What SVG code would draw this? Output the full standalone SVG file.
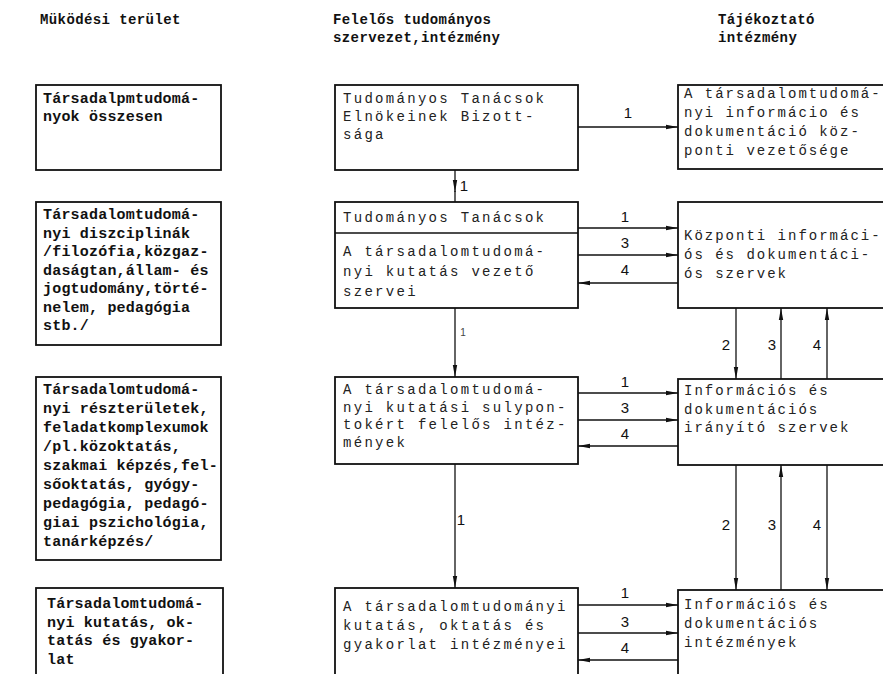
<svg xmlns="http://www.w3.org/2000/svg" width="883" height="674" viewBox="0 0 883 674">
<defs>
<style>
.box{fill:#fff;stroke:#111;stroke-width:1.8}
.cn{stroke:#111;stroke-width:1.3;fill:none}
.hd{font-family:"Liberation Mono",monospace;font-weight:bold;font-size:14px;letter-spacing:0.4px;fill:#111}
.lt{font-family:"Liberation Mono",monospace;font-weight:bold;font-size:15px;letter-spacing:0.2px;fill:#111}
.mt{font-family:"Liberation Mono",monospace;font-size:14px;letter-spacing:2.3px;fill:#222}
.rt{font-family:"Liberation Mono",monospace;font-size:14px;letter-spacing:2px;fill:#222}
.lb{font-family:"Liberation Sans",sans-serif;font-size:15px;text-anchor:middle;fill:#111}
.sm{font-family:"Liberation Sans",sans-serif;font-size:10px;text-anchor:middle;fill:#444}
</style>
<marker id="ah" markerUnits="userSpaceOnUse" markerWidth="12" markerHeight="6" refX="12" refY="3" orient="auto">
<path d="M0,0.8 L12,3 L0,5.2 z" fill="#111"/>
</marker>
</defs>
<rect width="883" height="674" fill="#fff"/>

<g id="headers">
<text class="hd" x="40" y="24">Müködési terület</text>
<text class="hd" x="333" y="24">Felelős tudományos</text>
<text class="hd" x="333" y="42">szervezet,intézmény</text>
<text class="hd" x="718" y="24">Tájékoztató</text>
<text class="hd" x="718" y="42">intézmény</text>
</g>

<g id="left1"><rect class="box" x="36" y="85" width="185" height="85"/>
<text class="lt" x="43" y="103">Társadalpmtudomá-</text>
<text class="lt" x="43" y="121">nyok összesen</text></g>

<g id="left2"><rect class="box" x="36" y="202" width="185" height="143"/>
<text class="lt" x="43" y="219">Társadalomtudomá-</text>
<text class="lt" x="43" y="237.5">nyi diszciplinák</text>
<text class="lt" x="43" y="256">/filozófia,közgaz-</text>
<text class="lt" x="43" y="274.5">daságtan,állam- és</text>
<text class="lt" x="43" y="293">jogtudomány,törté-</text>
<text class="lt" x="43" y="311.5">nelem, pedagógia</text>
<text class="lt" x="43" y="330">stb./</text></g>

<g id="left3"><rect class="box" x="36" y="377" width="185" height="183"/>
<text class="lt" x="43" y="394">Társadalomtudomá-</text>
<text class="lt" x="43" y="413">nyi részterületek,</text>
<text class="lt" x="43" y="432">feladatkomplexumok</text>
<text class="lt" x="43" y="451">/pl.közoktatás,</text>
<text class="lt" x="43" y="470">szakmai képzés,fel-</text>
<text class="lt" x="43" y="489">sőoktatás, gyógy-</text>
<text class="lt" x="43" y="508">pedagógia, pedagó-</text>
<text class="lt" x="43" y="527">giai pszichológia,</text>
<text class="lt" x="43" y="546">tanárképzés/</text></g>

<g id="left4"><rect class="box" x="36" y="588" width="187" height="120"/>
<text class="lt" x="47" y="608">Társadalomtudomá-</text>
<text class="lt" x="47" y="626.5">nyi kutatás, ok-</text>
<text class="lt" x="47" y="645">tatás és gyakor-</text>
<text class="lt" x="47" y="663.5">lat</text></g>

<g id="mid1"><rect class="box" x="335" y="85" width="243" height="85"/>
<text class="mt" x="343" y="103">Tudományos Tanácsok</text>
<text class="mt" x="343" y="121">Elnökeinek Bizott-</text>
<text class="mt" x="343" y="139">sága</text></g>

<g id="mid2"><rect class="box" x="335" y="202" width="243" height="106"/>
<line class="cn" x1="335" y1="233" x2="578" y2="233"/>
<text class="mt" x="343" y="222">Tudományos Tanácsok</text>
<text class="mt" x="343" y="256">A társadalomtudomá-</text>
<text class="mt" x="343" y="276">nyi kutatás vezető</text>
<text class="mt" x="343" y="296">szervei</text></g>

<g id="mid3"><rect class="box" x="335" y="377" width="243" height="87"/>
<text class="mt" x="343" y="394">A társadalomtudomá-</text>
<text class="mt" x="343" y="411.5">nyi kutatási sulypon-</text>
<text class="mt" x="343" y="429">tokért felelős intéz-</text>
<text class="mt" x="343" y="446.5">mények</text></g>

<g id="mid4"><rect class="box" x="335" y="588" width="243" height="120"/>
<text class="mt" x="343" y="611">A társadalomtudományi</text>
<text class="mt" x="343" y="630">kutatás, oktatás és</text>
<text class="mt" x="343" y="649">gyakorlat intézményei</text></g>

<g id="right1"><rect class="box" x="678" y="85" width="220" height="84"/>
<text class="rt" x="684" y="98">A társadalomtudomá-</text>
<text class="rt" x="684" y="117">nyi informácio és</text>
<text class="rt" x="684" y="136">dokumentáció köz-</text>
<text class="rt" x="684" y="155">ponti vezetősége</text></g>

<g id="right2"><rect class="box" x="678" y="202" width="220" height="106"/>
<text class="rt" x="684" y="240">Központi informáci-</text>
<text class="rt" x="684" y="259">ós és dokumentáci-</text>
<text class="rt" x="684" y="278">ós szervek</text></g>

<g id="right3"><rect class="box" x="678" y="379" width="220" height="86"/>
<text class="rt" x="684" y="395">Információs és</text>
<text class="rt" x="684" y="413.5">dokumentációs</text>
<text class="rt" x="684" y="432">irányító szervek</text></g>

<g id="right4"><rect class="box" x="678" y="590" width="220" height="120"/>
<text class="rt" x="684" y="609">Információs és</text>
<text class="rt" x="684" y="628">dokumentációs</text>
<text class="rt" x="684" y="647">intézmények</text></g>

<g id="connectors">
<path class="cn" d="M578,127 H678" marker-end="url(#ah)"/>
<path class="cn" d="M455,170 V192" marker-end="url(#ah)"/>
<path class="cn" d="M455,191 V202"/>
<path class="cn" d="M578,228 H678" marker-end="url(#ah)"/>
<path class="cn" d="M578,255 H678" marker-end="url(#ah)"/>
<path class="cn" d="M678,283 H578" marker-end="url(#ah)"/>
<path class="cn" d="M455,308 V377" marker-end="url(#ah)"/>
<path class="cn" d="M736,308 V379" marker-end="url(#ah)"/>
<path class="cn" d="M781,379 V308" marker-end="url(#ah)"/>
<path class="cn" d="M827,379 V308" marker-end="url(#ah)"/>
<path class="cn" d="M578,393 H678" marker-end="url(#ah)"/>
<path class="cn" d="M578,420 H678" marker-end="url(#ah)"/>
<path class="cn" d="M678,446 H578" marker-end="url(#ah)"/>
<path class="cn" d="M455,464 V588" marker-end="url(#ah)"/>
<path class="cn" d="M736,465 V590" marker-end="url(#ah)"/>
<path class="cn" d="M781,590 V465" marker-end="url(#ah)"/>
<path class="cn" d="M827,465 V590" marker-end="url(#ah)"/>
<path class="cn" d="M578,605 H678" marker-end="url(#ah)"/>
<path class="cn" d="M578,633 H678" marker-end="url(#ah)"/>
<path class="cn" d="M678,660 H578" marker-end="url(#ah)"/>
<text class="lb" x="628" y="118">1</text>
<text class="lb" x="464" y="191">1</text>
<text class="lb" x="625" y="222">1</text>
<text class="lb" x="625" y="248">3</text>
<text class="lb" x="625" y="275">4</text>
<text class="sm" x="463" y="336">1</text>
<text class="lb" x="726" y="350">2</text>
<text class="lb" x="772" y="350">3</text>
<text class="lb" x="817" y="350">4</text>
<text class="lb" x="625" y="387">1</text>
<text class="lb" x="625" y="413">3</text>
<text class="lb" x="625" y="439">4</text>
<text class="lb" x="461" y="525">1</text>
<text class="lb" x="726" y="530">2</text>
<text class="lb" x="772" y="530">3</text>
<text class="lb" x="817" y="530">4</text>
<text class="lb" x="625" y="598">1</text>
<text class="lb" x="625" y="627">3</text>
<text class="lb" x="625" y="653">4</text>
</g>
</svg>
